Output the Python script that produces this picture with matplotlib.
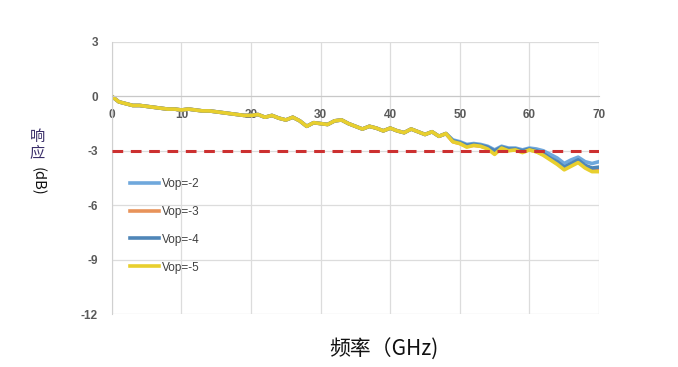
import matplotlib
matplotlib.use("Agg")
import matplotlib.pyplot as plt
import numpy as np

plt.rcParams['font.family'] = ['Noto Sans CJK SC', 'DejaVu Sans']

freq = list(range(0, 71))
vop5 = [0.0, -0.3, -0.4, -0.5, -0.5, -0.55, -0.6, -0.65, -0.7, -0.7,
        -0.75, -0.7, -0.75, -0.8, -0.8, -0.85, -0.9, -0.95, -1.0, -1.05,
        -1.05, -1.0, -1.15, -1.05, -1.2, -1.3, -1.15, -1.35, -1.65, -1.45,
        -1.5, -1.55, -1.35, -1.3, -1.5, -1.65, -1.8, -1.65, -1.75, -1.9,
        -1.75, -1.9, -2.0, -1.8, -1.95, -2.1, -1.95, -2.2, -2.05, -2.5,
        -2.6, -2.8, -2.7, -2.75, -2.9, -3.2, -2.85, -3.0, -2.95, -3.1,
        -2.95, -3.05, -3.25, -3.5, -3.75, -4.05, -3.85, -3.65, -3.95, -4.15,
        -4.15]
vop4 = [0.0, -0.3, -0.4, -0.5, -0.5, -0.55, -0.6, -0.65, -0.7, -0.7,
        -0.75, -0.7, -0.75, -0.8, -0.8, -0.85, -0.9, -0.95, -1.0, -1.05,
        -1.05, -1.0, -1.15, -1.05, -1.2, -1.3, -1.15, -1.35, -1.65, -1.45,
        -1.5, -1.55, -1.35, -1.3, -1.5, -1.65, -1.8, -1.65, -1.75, -1.9,
        -1.75, -1.9, -2.0, -1.8, -1.95, -2.1, -1.95, -2.2, -2.05, -2.45,
        -2.55, -2.7, -2.65, -2.7, -2.8, -3.0, -2.8, -2.9, -2.9, -3.0,
        -2.9, -3.0, -3.15, -3.4, -3.6, -3.9, -3.7, -3.5, -3.8, -3.95,
        -3.9]
vop3 = [0.0, -0.3, -0.4, -0.5, -0.5, -0.55, -0.6, -0.65, -0.7, -0.7,
        -0.75, -0.7, -0.75, -0.8, -0.8, -0.85, -0.9, -0.95, -1.0, -1.05,
        -1.05, -1.0, -1.15, -1.05, -1.2, -1.3, -1.15, -1.35, -1.65, -1.45,
        -1.5, -1.55, -1.35, -1.3, -1.5, -1.65, -1.8, -1.65, -1.75, -1.9,
        -1.75, -1.9, -2.0, -1.8, -1.95, -2.1, -1.95, -2.2, -2.05, -2.5,
        -2.6, -2.75, -2.7, -2.75, -2.85, -3.1, -2.85, -2.95, -2.95, -3.05,
        -2.95, -3.05, -3.2, -3.45, -3.7, -4.0, -3.8, -3.6, -3.9, -4.05,
        -4.0]
vop2 = [0.0, -0.3, -0.4, -0.5, -0.5, -0.55, -0.6, -0.65, -0.7, -0.7,
        -0.75, -0.7, -0.75, -0.8, -0.8, -0.85, -0.9, -0.95, -1.0, -1.05,
        -1.05, -1.0, -1.15, -1.05, -1.2, -1.3, -1.15, -1.35, -1.65, -1.45,
        -1.5, -1.55, -1.35, -1.3, -1.5, -1.65, -1.8, -1.65, -1.75, -1.9,
        -1.75, -1.9, -2.0, -1.8, -1.95, -2.1, -1.95, -2.2, -2.05, -2.4,
        -2.5, -2.65, -2.6, -2.65, -2.75, -2.95, -2.75, -2.85, -2.85, -2.95,
        -2.85, -2.9, -3.0, -3.2, -3.4, -3.7, -3.5, -3.35, -3.6, -3.7,
        -3.6]

series_labels = ['Vop=-2', 'Vop=-3', 'Vop=-4', 'Vop=-5']
series_values = [vop2, vop3, vop4, vop5]
series_colors = ['#6FA8DC', '#E8935A', '#4F86B8', '#E8CF2E']

threshold = -3
y_ticks = [3, 0, -3, -6, -9, -12]
x_ticks = [0, 10, 20, 30, 40, 50, 60, 70]

fig = plt.figure(figsize=(6.78, 3.67), dpi=100)
ax = fig.add_axes([0.165, 0.1444, 0.7185, 0.7412])

for lab, vals, col in zip(series_labels, series_values, series_colors):
    ax.plot(freq, vals, color=col, lw=2.6, label=lab, solid_joinstyle='round')

ax.plot([0, 70], [threshold, threshold], color='#CC3030', lw=2.2,
        dashes=(3.5, 2.5), zorder=5)

ax.set_xlim(0, 70)
ax.set_ylim(-12, 3)
ax.set_yticks(y_ticks)
ax.set_yticklabels(['3', '0', '-3', '-6', '-9', '-12'])
ax.set_xticks(x_ticks)
ax.set_xticklabels([str(v) for v in x_ticks])
ax.grid(True, color='#DCDCDC', lw=0.9)
ax.set_axisbelow(True)

for s in ['top', 'right']:
    ax.spines[s].set_visible(False)
ax.spines['left'].set_color('#D0D0D0')
ax.spines['bottom'].set_position(('data', 0))
ax.spines['bottom'].set_color('#C8C8C8')
ax.tick_params(axis='both', length=0, colors='#595959', labelsize=8.5)
ax.tick_params(axis='x', pad=9)
ax.tick_params(axis='y', pad=10)
for t in ax.get_xticklabels() + ax.get_yticklabels():
    t.set_fontweight('bold')
    t.set_family(['Liberation Sans', 'DejaVu Sans'])

leg = ax.legend(loc='upper left', bbox_to_anchor=(0.015, 0.54), frameon=False,
                fontsize=8.5, labelspacing=1.35, handlelength=2.5, handletextpad=0.2)
for t in leg.get_texts():
    t.set_color('#404040')
    t.set_family(['Liberation Sans', 'DejaVu Sans'])

fig.text(0.566, 0.046, '频率（GHz)', ha='center', va='center', fontsize=15, color='#111111')
fig.text(0.055, 0.605, '响\n应', ha='center', va='center', fontsize=11,
         color='#3A2E6A', linespacing=1.0)
fig.text(0.055, 0.505, '(dB)', ha='center', va='center', fontsize=10.5,
         color='#111111', rotation=-90)

fig.savefig('out.png', dpi=100)
